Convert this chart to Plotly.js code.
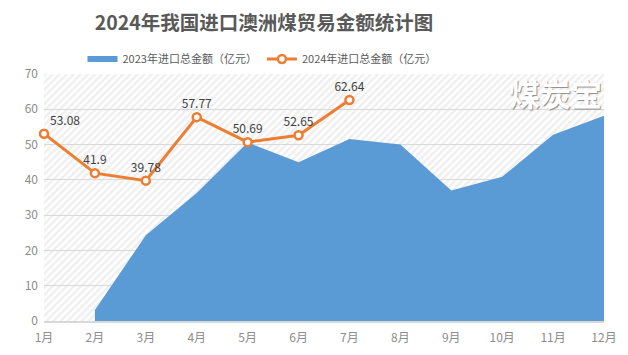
<!DOCTYPE html>
<html>
<head>
<meta charset="utf-8">
<script src="https://cdn.plot.ly/plotly-3.0.1.min.js"></script>
<style>html,body{margin:0;padding:0;background:#fff;}#chart{width:628px;height:355px;}</style>
</head>
<body>
<div id="chart"></div>
<script>
const months = ["1月","2月","3月","4月","5月","6月","7月","8月","9月","10月","11月","12月"];
const values2023 = [null, 3.1, 24.3, 36.3, 50.6, 45.0, 51.6, 50.0, 37.0, 40.9, 52.8, 58.2];
const values2024 = [53.08, 41.9, 39.78, 57.77, 50.69, 52.65, 62.64];
const labels2024 = ["53.08","41.9","39.78","57.77","50.69","52.65","62.64"];
const seriesNames = ["2023年进口总金额（亿元）", "2024年进口总金额（亿元）"];
const chartTitle = "2024年我国进口澳洲煤贸易金额统计图";
const yTicks = [0,10,20,30,40,50,60,70];

const W = 560, H = 247;
const svg = `<svg xmlns="http://www.w3.org/2000/svg" width="${W}" height="${H}" viewBox="0 0 ${W} ${H}"><defs><pattern id="p" width="5" height="5" patternUnits="userSpaceOnUse" patternTransform="rotate(45)"><rect width="5" height="5" fill="#ffffff"/><rect width="2.5" height="5" fill="#efefef"/></pattern></defs><rect width="${W}" height="${H}" fill="url(#p)"/></svg>`;
const bgSrc = "data:image/svg+xml;base64," + btoa(svg);

const font = "'Noto Sans CJK SC', 'Microsoft YaHei', sans-serif";
const textPos = labels2024.map((_, i) => i === 0 ? "top right" : "top center");

const traces = [
  {
    x: months, y: values2023, name: seriesNames[0], type: "scatter", mode: "none",
    fill: "tozeroy", fillcolor: "#5b9bd5", connectgaps: false, hoverinfo: "skip"
  },
  {
    x: months.slice(0, values2024.length), y: values2024, name: seriesNames[1], type: "scatter",
    mode: "lines+markers+text", text: labels2024, textposition: textPos,
    textfont: {family: font, size: 12, color: "#404040"},
    line: {color: "#ed7d31", width: 3},
    marker: {symbol: "circle", size: 8, color: "#ffffff", line: {color: "#ed7d31", width: 2.5}},
    cliponaxis: false
  }
];

const layout = {
  width: 628, height: 355,
  margin: {l: 44, r: 24, t: 74, b: 34},
  paper_bgcolor: "#ffffff", plot_bgcolor: "rgba(0,0,0,0)",
  font: {family: font, size: 12, color: "#595959"},
  title: {
    text: chartTitle,
    font: {family: font, size: 19.5, color: "#595959", weight: 700},
    xref: "container", x: 264/628, xanchor: "center",
    yref: "container", y: 1 - 23/355, yanchor: "middle"
  },
  showlegend: true,
  legend: {
    orientation: "h", x: (262-44)/560, xanchor: "center", y: (321-59)/247, yanchor: "middle",
    font: {family: font, size: 11, color: "#595959"}, itemwidth: 30, tracegroupgap: 0,
    bgcolor: "rgba(0,0,0,0)"
  },
  xaxis: {
    type: "category", range: [0, 11], showgrid: false, zeroline: false,
    showline: true, linecolor: "#d9d9d9", linewidth: 1.5,
    ticks: "", ticklabelstandoff: 5, tickfont: {family: font, size: 12, color: "#8c8c8c"}, fixedrange: true
  },
  yaxis: {
    range: [0, 70], tickvals: yTicks, showgrid: true, gridcolor: "#d9d9d9", gridwidth: 1,
    zeroline: false, showline: false, ticks: "", ticklabelstandoff: 5,
    tickfont: {family: font, size: 12, color: "#8c8c8c"}, fixedrange: true
  },
  images: [{
    source: bgSrc, xref: "paper", yref: "paper", x: 0, y: 1, sizex: 1, sizey: 1,
    xanchor: "left", yanchor: "top", sizing: "stretch", layer: "below"
  }],
  annotations: [{
    text: "煤炭宝", xref: "paper", yref: "paper", x: (555-44)/560, y: (321-92)/247,
    xanchor: "center", yanchor: "middle", showarrow: false,
    font: {family: font, size: 31, color: "#ffffff", weight: 700, shadow: "1px 1px 1px #8a8a8a"}
  }]
};

Plotly.newPlot("chart", traces, layout, {displayModeBar: false, staticPlot: true});
</script>
</body>
</html>
